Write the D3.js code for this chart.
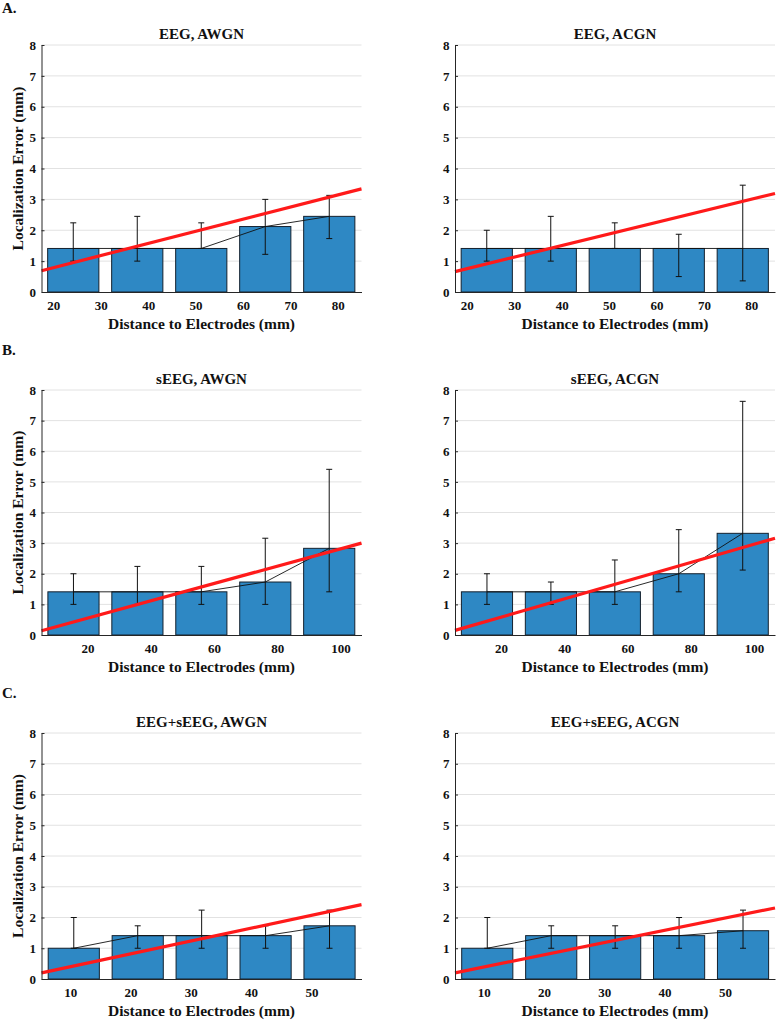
<!DOCTYPE html>
<html>
<head>
<meta charset="utf-8">
<script src="https://cdn.jsdelivr.net/npm/d3@7"></script>
<style>
  body { margin: 0; background: #fff; }
  text { font-family: "Liberation Serif", "Times New Roman", serif; font-weight: bold; fill: #111; }
</style>
</head>
<body>
<svg id="chart" width="776" height="1020"></svg>
<script>
// ---- data ----
var rowLetters = ["A.", "B.", "C."];
var panelTitles = ["EEG, AWGN", "EEG, ACGN", "sEEG, AWGN", "sEEG, ACGN", "EEG+sEEG, AWGN", "EEG+sEEG, ACGN"];
var yTicks = [0, 1, 2, 3, 4, 5, 6, 7, 8];

// distance axes (mm) per row
var eegRange = [17.5, 85];
var eegCenters = [24.2, 37.7, 51.2, 64.7, 78.2];
var eegTicks = [20, 30, 40, 50, 60, 70, 80];

var seegRange = [5.5, 106.6];
var seegCenters = [15.6, 35.8, 56.0, 76.2, 96.4];
var seegTicks = [20, 40, 60, 80, 100];

var bothRange = [5.25, 58.3];
var bothCenters = [10.6, 21.2, 31.8, 42.4, 53.0];
var bothTicks = [10, 20, 30, 40, 50];

// localization error (mm): bar value, error low, error high, fit line ends
var eegAwgnMean = [1.41, 1.41, 1.41, 2.12, 2.45];
var eegAwgnLow = [1.0, 1.0, 1.41, 1.22, 1.73];
var eegAwgnHigh = [2.24, 2.45, 2.24, 3.0, 3.13];
var eegAwgnFit = [0.69, 3.34];

var eegAcgnMean = [1.41, 1.41, 1.41, 1.41, 1.41];
var eegAcgnLow = [1.0, 1.0, 1.41, 0.5, 0.36];
var eegAcgnHigh = [2.0, 2.45, 2.24, 1.87, 3.46];
var eegAcgnFit = [0.66, 3.19];

var seegAwgnMean = [1.41, 1.41, 1.41, 1.73, 2.83];
var seegAwgnLow = [1.0, 1.0, 1.0, 1.0, 1.41];
var seegAwgnHigh = [2.0, 2.24, 2.24, 3.16, 5.41];
var seegAwgnFit = [0.14, 3.0];

var seegAcgnMean = [1.41, 1.41, 1.41, 2.0, 3.32];
var seegAcgnLow = [1.0, 1.0, 1.0, 1.41, 2.12];
var seegAcgnHigh = [2.0, 1.73, 2.45, 3.44, 7.63];
var seegAcgnFit = [0.15, 3.16];

var bothAwgnMean = [1.0, 1.41, 1.41, 1.41, 1.73];
var bothAwgnLow = [1.0, 1.0, 1.0, 1.0, 1.0];
var bothAwgnHigh = [2.0, 1.73, 2.24, 1.73, 2.24];
var bothAwgnFit = [0.2, 2.42];

var bothAcgnMean = [1.0, 1.41, 1.41, 1.41, 1.57];
var bothAcgnLow = [1.0, 1.0, 1.0, 1.0, 1.0];
var bothAcgnHigh = [2.0, 1.73, 1.73, 2.0, 2.24];
var bothAcgnFit = [0.2, 2.31];

// ---- layout ----
var svg = d3.select("#chart");
var plotW = 320;
var colX = [41.5, 455];
var rowY = [[45, 292], [390, 635], [733, 979]];
var letterY = [12.5, 355, 698];

var panels = [
  { range: eegRange, centers: eegCenters, ticks: eegTicks, mean: eegAwgnMean, low: eegAwgnLow, high: eegAwgnHigh, fit: eegAwgnFit },
  { range: eegRange, centers: eegCenters, ticks: eegTicks, mean: eegAcgnMean, low: eegAcgnLow, high: eegAcgnHigh, fit: eegAcgnFit },
  { range: seegRange, centers: seegCenters, ticks: seegTicks, mean: seegAwgnMean, low: seegAwgnLow, high: seegAwgnHigh, fit: seegAwgnFit },
  { range: seegRange, centers: seegCenters, ticks: seegTicks, mean: seegAcgnMean, low: seegAcgnLow, high: seegAcgnHigh, fit: seegAcgnFit },
  { range: bothRange, centers: bothCenters, ticks: bothTicks, mean: bothAwgnMean, low: bothAwgnLow, high: bothAwgnHigh, fit: bothAwgnFit },
  { range: bothRange, centers: bothCenters, ticks: bothTicks, mean: bothAcgnMean, low: bothAcgnLow, high: bothAcgnHigh, fit: bothAcgnFit }
];

rowLetters.forEach(function(l, i) {
  svg.append("text").attr("x", 2).attr("y", letterY[i]).attr("font-size", 15).text(l);
});

panels.forEach(function(p, i) {
  var row = Math.floor(i / 2), col = i % 2;
  var top = rowY[row][0], bottom = rowY[row][1], h = bottom - top;
  var g = svg.append("g").attr("transform", "translate(" + colX[col] + "," + top + ")");

  var x = d3.scaleLinear().domain(p.range).range([0, plotW]);
  var y = d3.scaleLinear().domain([0, 8]).range([h, 0]);
  var bw = 0.8 * (x(p.centers[1]) - x(p.centers[0]));

  // grid
  g.selectAll(".grid").data(yTicks.slice(1)).enter().append("line")
    .attr("x1", 0).attr("x2", plotW)
    .attr("y1", function(d) { return y(d); }).attr("y2", function(d) { return y(d); })
    .attr("stroke", "#e2e2e2").attr("stroke-width", 1);

  // bars
  g.selectAll(".bar").data(p.mean).enter().append("rect")
    .attr("x", function(d, k) { return x(p.centers[k]) - bw / 2; })
    .attr("y", function(d) { return y(d); })
    .attr("width", bw)
    .attr("height", function(d) { return h - y(d); })
    .attr("fill", "#2e88c4").attr("stroke", "#14212e").attr("stroke-width", 1);

  // mean line
  var line = d3.line().x(function(d, k) { return x(p.centers[k]); }).y(function(d) { return y(d); });
  g.append("path").datum(p.mean).attr("d", line)
    .attr("fill", "none").attr("stroke", "#111").attr("stroke-width", 0.9);

  // error bars
  var eb = g.selectAll(".err").data(p.centers).enter().append("g");
  eb.append("line")
    .attr("x1", function(d) { return x(d); }).attr("x2", function(d) { return x(d); })
    .attr("y1", function(d, k) { return y(p.low[k]); }).attr("y2", function(d, k) { return y(p.high[k]); })
    .attr("stroke", "#111").attr("stroke-width", 1);
  ["low", "high"].forEach(function(key) {
    eb.append("line")
      .attr("x1", function(d) { return x(d) - 3; }).attr("x2", function(d) { return x(d) + 3; })
      .attr("y1", function(d, k) { return y(p[key][k]); }).attr("y2", function(d, k) { return y(p[key][k]); })
      .attr("stroke", "#111").attr("stroke-width", 1);
  });

  // fit line
  g.append("line")
    .attr("x1", x(p.range[0])).attr("x2", x(p.range[1]))
    .attr("y1", y(p.fit[0])).attr("y2", y(p.fit[1]))
    .attr("stroke", "#ff1a1a").attr("stroke-width", 3.2);

  // axes
  var ya = g.append("g").call(d3.axisLeft(y).tickValues(yTicks).tickSize(-3).tickSizeOuter(0).tickPadding(5.5));
  ya.attr("font-size", 13);
  ya.selectAll("line, path").attr("stroke", "#262626");

  var xa = g.append("g").attr("transform", "translate(0," + h + ")")
    .call(d3.axisBottom(x).tickValues(p.ticks).tickSize(0).tickSizeOuter(0).tickPadding(8.3));
  xa.attr("font-size", 13);
  xa.select("path").attr("stroke", "#262626");

  // labels
  g.append("text").attr("x", plotW / 2).attr("y", -6).attr("text-anchor", "middle")
    .attr("font-size", 15).text(panelTitles[i]);
  g.append("text").attr("x", plotW / 2).attr("y", h + 36.5).attr("text-anchor", "middle")
    .attr("font-size", 15.5).text("Distance to Electrodes (mm)");
  if (col === 0) {
    g.append("text").attr("transform", "translate(" + (23 - colX[0]) + "," + (h / 2) + ") rotate(-90)")
      .attr("text-anchor", "middle").attr("font-size", 15.5).text("Localization Error (mm)");
  }
});
</script>
</body>
</html>
